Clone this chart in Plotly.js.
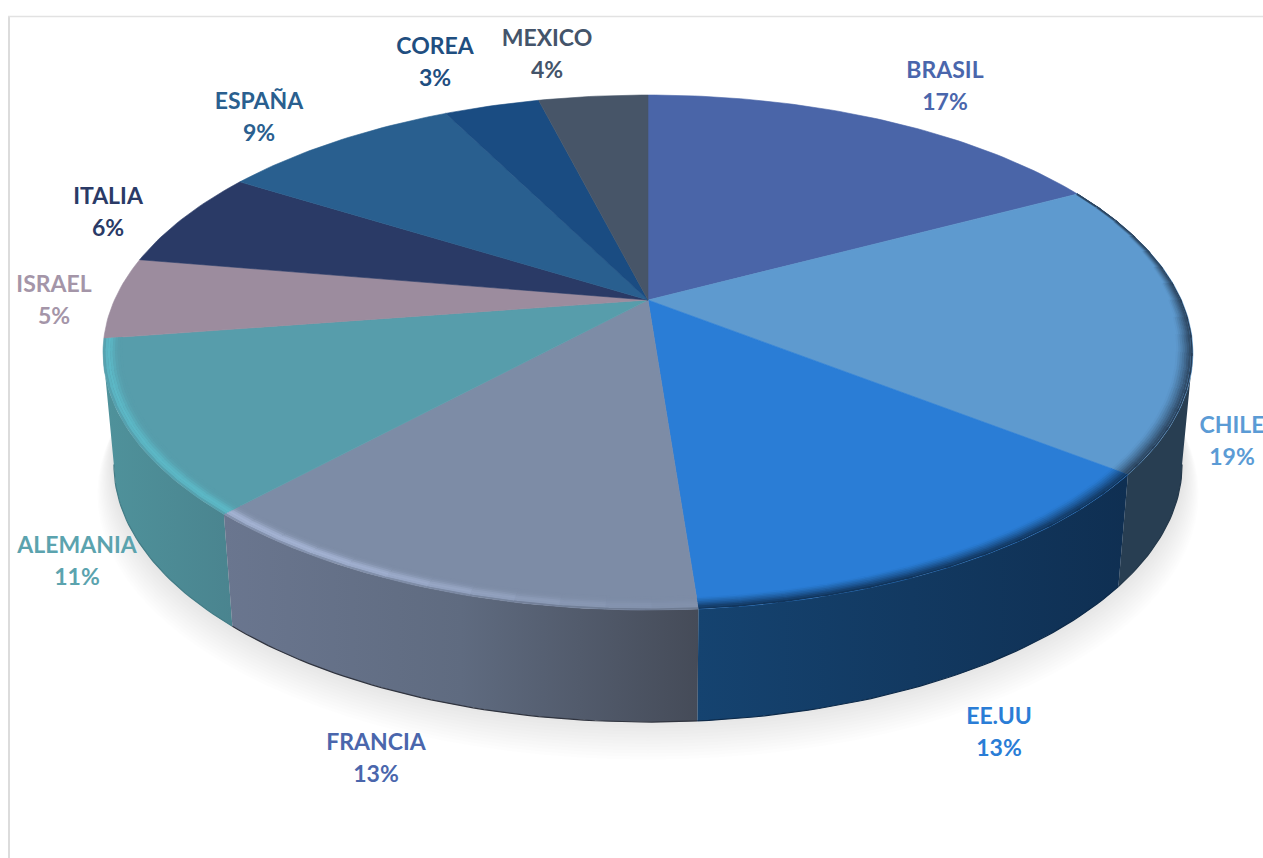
<!DOCTYPE html>
<html>
<head>
<meta charset="utf-8">
<script src="https://cdn.plot.ly/plotly-3.0.1.min.js"></script>
<style>html,body{margin:0;padding:0;background:#fff;overflow:hidden}</style>
</head>
<body>
<div id="chart" style="width:1263px;height:858px"></div>
<script>
// ---- data ----
const countries = ['BRASIL','CHILE','EE.UU','FRANCIA','ALEMANIA','ISRAEL','ITALIA','ESPAÑA','COREA','MEXICO'];
const printedPercent = [17,19,13,13,11,5,6,9,3,4];
// angular share of each slice, as measured on the drawing
const sliceShare = [17.2,18.4,13.2,13.0,10.8,5.1,6.2,8.7,3.45,3.95];
const faceColors = ['#4a65a8','#5e9acf','#2a7dd6','#7d8ca6','#579dab','#9c8c9e','#2a3a66','#295f8f','#1a4c82','#475568'];
const labelColors = ['#4a66ac','#5b9bd5','#2a7dd6','#4a66ac','#5ba3ae','#a495a8','#2a3a66','#2a5f8f','#1f4e80','#44546a'];
// ---- label placement ----
const labelX = [945,1232,999,376,77,54,108,259,435,547];
const labelY = [72,427,718,744,547,286,198,103,48,40];
const labelGap = 32;
// ---- 3D view ----
const view = {cx:648, cy:300, A:533.5, B:246.8, k:0.204, depth:112, lowerScale:0.98};
const wallStyles = {
  1:{stops:['#283e52','#283e52'], edge:'#24384a'},
  2:{stops:['#154370','#0f2f52'], edge:'#0d2a49'},
  3:{stops:['#6a768f','#5f6b80','#454b58'], edge:'#30343f'},
  4:{stops:['#4f929b','#4a848f'], edge:'#437c86'}
};
const bevelStyles = {
  1:{tint:'#24384f', kind:'dark'},
  2:{tint:'#0f2f52', kind:'dark'},
  3:{tint:'#a3b2d2', kind:'light'},
  4:{tint:'#5cb8c6', kind:'light'}
};
const wallMid = {3:'#5f6b80',4:'#4a8a94'};

const rad = d => d*Math.PI/180;
const rightExtreme = Math.acos(-view.k)*180/Math.PI;
const leftExtreme = 360-rightExtreme;
function project(thetaDeg, r, lower){
  const t = rad(thetaDeg), u = r*Math.sin(t), v = r*Math.cos(t), d = 1+view.k*v;
  const s = lower ? view.lowerScale : 1;
  return [view.cx + s*view.A*u/d, view.cy - view.B*v/d + (lower?view.depth:0)];
}
function arc(a0, a1, r, lower, step){
  const n = Math.max(2, Math.ceil(Math.abs(a1-a0)/(step||1))), xs=[], ys=[];
  for(let i=0;i<=n;i++){const p=project(a0+(a1-a0)*i/n,r,lower);xs.push(p[0]);ys.push(p[1]);}
  return [xs,ys];
}
function hex(c){return [1,3,5].map(i=>parseInt(c.substr(i,2),16));}
function toHex(c){return c;}
function blend(a,b,t){const A=hex(a),B=hex(b);return '#'+A.map((v,i)=>Math.round(v+(B[i]-v)*t).toString(16).padStart(2,'0')).join('');}
function smooth(a,b,x){const t=Math.min(1,Math.max(0,(x-a)/(b-a)));return t*t*(3-2*t);}

const edges=[0]; sliceShare.forEach(s=>edges.push(edges[edges.length-1]+s*3.6));
const traces=[];
const base={mode:'lines',hoverinfo:'skip',showlegend:false};

// soft floor shadow
const shadowLayers=14;
for(let i=shadowLayers;i>=1;i--){
  const f=i/shadowLayers, a=arc(0,360,1+0.03*f,true,3);
  traces.push({...base,x:a[0],y:a[1].map(y=>y+32*f-6),fill:'toself',fillcolor:'rgba(0,0,0,0.0095)',line:{width:0}});
}

// side walls: each runs between the rim and the floor outline, clipped to the visible silhouette
[1,4,3,2].forEach(i=>{
  const style=wallStyles[i];
  const a0=Math.max(edges[i],i===1?rightExtreme:edges[i]);
  const a1=Math.min(edges[i+1],i===4?leftExtreme:edges[i+1]);
  const top=arc(a0,a1,1,false), low=arc(a1,a0,1,true);
  const xs=top[0].concat(low[0]), ys=top[1].concat(low[1]);
  const start=Math.min(...xs), stop=Math.max(...xs);
  const cs=style.stops.map((c,j)=>[j/(style.stops.length-1),c]);
  traces.push({...base,x:xs,y:ys,fill:'toself',line:{width:0},
    fillgradient:{type:'horizontal',colorscale:cs,start:start,stop:stop}});
  const e=arc(a0,a1,1,true);
  traces.push({...base,x:e[0],y:e[1],line:{color:style.edge,width:1.2}});
});

// top face
sliceShare.forEach((s,i)=>{
  const a=arc(edges[i],edges[i+1],1,false);
  traces.push({...base,x:[view.cx].concat(a[0],[view.cx]),y:[view.cy].concat(a[1],[view.cy]),
    fill:'toself',fillcolor:faceColors[i],line:{color:faceColors[i],width:0.6}});
});

// rounded rim of the visible front edge
const levels=8, segment=4;
[1,2,3,4].forEach(i=>{
  const st=bevelStyles[i];
  for(let a=edges[i];a<edges[i+1]-0.01;a+=segment){
    const b=Math.min(edges[i+1],a+segment+0.6), mid=(a+b)/2;
    const widthFactor = mid<105 ? 0.12+0.88*smooth(62,105,mid) : 1;
    let amount=1;
    if(st.kind==='light') amount = mid<225 ? 0.12+0.88*smooth(175,214,mid) : 1;
    const width=(st.kind==='dark'?0.03:0.034)*widthFactor;
    for(let l=levels-1;l>=0;l--){
      const t=(l+0.5)/levels, r=1-width*t;
      let c;
      if(st.kind==='dark'){
        c=blend(faceColors[i],st.tint,Math.pow(1-t,1.2));
      }else{
        const w=Math.exp(-Math.pow((t-0.3)/0.3,2));
        c=blend(faceColors[i],st.tint,w*amount);
        if(t<0.14) c=blend(c,wallMid[i],0.6*(1-amount*0.6));
      }
      const seg=arc(a,b,r,false,1);
      traces.push({...base,x:seg[0],y:seg[1],line:{color:c,width:(l===0?1.6:2.4)*Math.max(widthFactor,0.6)}});
    }
  }
});

// labels
const labelFont={family:'Lato, Carlito, sans-serif',size:23,weight:700,color:labelColors};
traces.push({type:'scatter',mode:'text',x:labelX,y:labelY,text:countries,hoverinfo:'skip',showlegend:false,cliponaxis:false,
  textposition:'middle center',textfont:labelFont});
traces.push({type:'scatter',mode:'text',x:labelX,y:labelY.map(y=>y+labelGap),text:printedPercent.map(p=>p+'%'),hoverinfo:'skip',showlegend:false,cliponaxis:false,
  textposition:'middle center',textfont:labelFont});

const layout={
  width:1263,height:858,margin:{l:0,r:0,t:0,b:0},paper_bgcolor:'#fff',plot_bgcolor:'#fff',showlegend:false,
  xaxis:{range:[0,1263],visible:false,fixedrange:true},
  yaxis:{range:[858,0],visible:false,fixedrange:true},
  shapes:[
    {type:'line',xref:'x',yref:'y',x0:9,x1:9,y0:16,y1:858,line:{color:'#dcdcdc',width:2},layer:'below'},
    {type:'line',xref:'x',yref:'y',x0:8,x1:1263,y0:16.5,y1:16.5,line:{color:'#e2e2e2',width:1.4},layer:'below'}
  ]
};
Plotly.newPlot('chart',traces,layout,{displayModeBar:false,staticPlot:true});
</script>
</body>
</html>
